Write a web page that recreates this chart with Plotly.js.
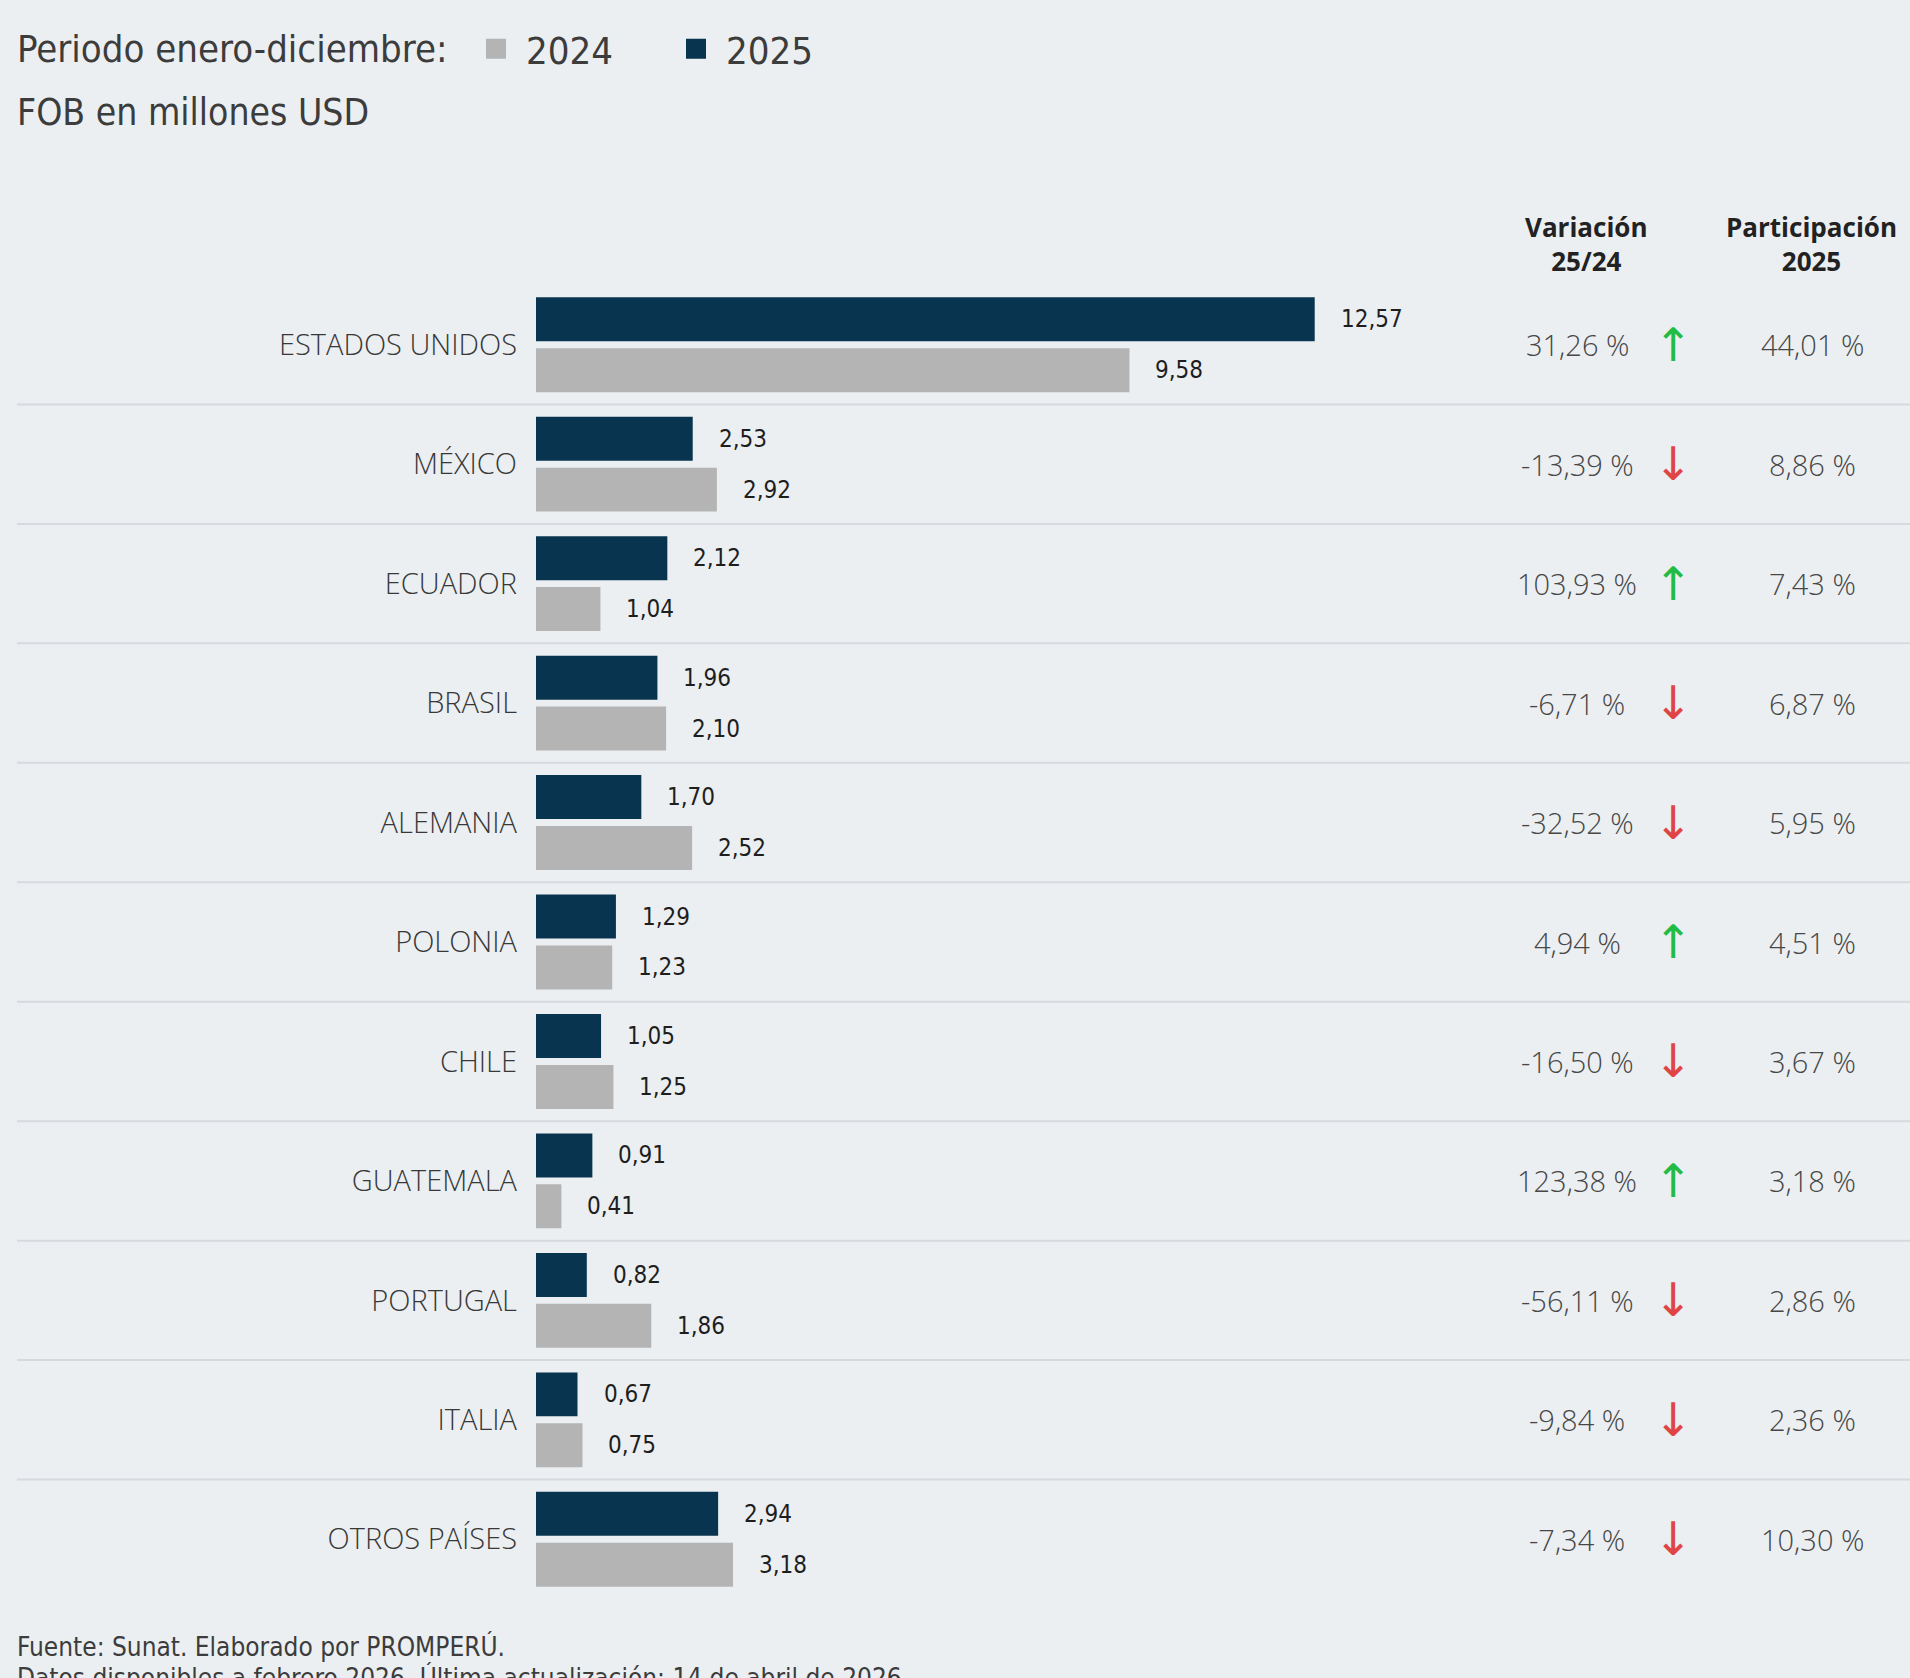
<!DOCTYPE html>
<html>
<head>
<meta charset="utf-8">
<script src="https://cdn.plot.ly/plotly-3.0.1.min.js"></script>
<style>
html,body{margin:0;padding:0;background:#ebeff2;}
#chart{width:1910px;height:1678px;}
</style>
</head>
<body>
<div id="chart"></div>
<script>
// ---- data ----
const countries = ["ESTADOS UNIDOS","MÉXICO","ECUADOR","BRASIL","ALEMANIA","POLONIA","CHILE","GUATEMALA","PORTUGAL","ITALIA","OTROS PAÍSES"];
const values2025 = [12.57,2.53,2.12,1.96,1.70,1.29,1.05,0.91,0.82,0.67,2.94];
const values2024 = [9.58,2.92,1.04,2.10,2.52,1.23,1.25,0.41,1.86,0.75,3.18];
const variation = [31.26,-13.39,103.93,-6.71,-32.52,4.94,-16.50,123.38,-56.11,-9.84,-7.34];
const share2025 = [44.01,8.86,7.43,6.87,5.95,4.51,3.67,3.18,2.86,2.36,10.30];
const seriesNames = ["2024","2025"];
const headerVar = ["Variación","25/24"];
const headerShare = ["Participación","2025"];
const titleText = "Periodo enero-diciembre:";
const subtitleText = "FOB en millones USD";
const footerLines = ["Fuente: Sunat. Elaborado por PROMPERÚ.","Datos disponibles a febrero 2026. Última actualización: 14 de abril de 2026."];

// ---- styles ----
const W = 1910, H = 1678;
const ML = 536, MR = 0, MT = 284.75, PH = 1314.5;
const MB = H - MT - PH;
const PW = W - ML - MR;
const pxPerUnit = 61.95;
const BG = "#ebeff2";
const NAVY = "#08344f";
const GREY = "#b4b4b4";
const GREEN = "#22bb44";
const RED = "#e04545";
const condFont = "DejaVu Sans Condensed, DejaVu Sans, sans-serif";
const openFont = "Open Sans, Roboto, sans-serif";

const fmt = v => v.toFixed(2).replace(".", ",");
const pxX = p => (p - ML) / PW;               // page px -> paper x
const pxY = p => (MT + PH - p) / PH;          // page px -> paper y

const traces = [
  {
    type: "bar", orientation: "h", name: seriesNames[1],
    y: countries, x: values2025,
    width: 0.368, offset: -0.397,
    marker: {color: NAVY}, showlegend: false, hoverinfo: "skip"
  },
  {
    type: "bar", orientation: "h", name: seriesNames[0],
    y: countries, x: values2024,
    width: 0.368, offset: 0.029,
    marker: {color: GREY}, showlegend: false, hoverinfo: "skip"
  },
  {
    type: "scatter", mode: "markers", name: seriesNames[0],
    x: [null], y: [null],
    marker: {symbol: "square", size: 16, color: GREY, line: {color: GREY, width: 4}},
    showlegend: true
  },
  {
    type: "scatter", mode: "markers", name: seriesNames[1],
    x: [null], y: [null],
    marker: {symbol: "square", size: 16, color: NAVY, line: {color: NAVY, width: 4}},
    showlegend: true
  }
];

const annotations = [];
const shapes = [];

countries.forEach((c, i) => {
  // value labels
  annotations.push({
    x: values2025[i], y: i - 0.213, xref: "x", yref: "y",
    text: fmt(values2025[i]), showarrow: false,
    xanchor: "left", yanchor: "middle", xshift: 24,
    font: {family: condFont, size: 24, color: "#1e1e1e"}
  });
  annotations.push({
    x: values2024[i], y: i + 0.213, xref: "x", yref: "y",
    text: fmt(values2024[i]), showarrow: false,
    xanchor: "left", yanchor: "middle", xshift: 24,
    font: {family: condFont, size: 24, color: "#1e1e1e"}
  });
  // variation
  annotations.push({
    x: pxX(1577), y: i, xref: "paper", yref: "y",
    text: fmt(variation[i]) + " %", showarrow: false,
    xanchor: "center", yanchor: "middle",
    font: {family: openFont, size: 29, color: "#474747", weight: 300}
  });
  // arrow
  const up = variation[i] >= 0;
  annotations.push({
    x: pxX(1673), y: i, xref: "paper", yref: "y",
    text: up ? "↑" : "↓", showarrow: false,
    xanchor: "center", yanchor: "middle",
    font: {family: "DejaVu Sans, sans-serif", size: 46, color: up ? GREEN : RED}
  });
  // share
  annotations.push({
    x: pxX(1812), y: i, xref: "paper", yref: "y",
    text: fmt(share2025[i]) + " %", showarrow: false,
    xanchor: "center", yanchor: "middle",
    font: {family: openFont, size: 29, color: "#474747", weight: 300}
  });
  if (i < countries.length - 1) {
    shapes.push({
      type: "line", xref: "paper", yref: "y",
      x0: pxX(17), x1: 1, y0: i + 0.5, y1: i + 0.5,
      line: {color: "#d6dade", width: 2}, layer: "below"
    });
  }
});

// headers
[[headerVar, 1586], [headerShare, 1811]].forEach(([lines, px]) => {
  annotations.push({
    x: pxX(px), y: pxY(243.5), xref: "paper", yref: "paper",
    text: "<b>" + lines[0] + "</b><br><b>" + lines[1] + "</b>", showarrow: false,
    xanchor: "center", yanchor: "middle", align: "center",
    font: {family: openFont, size: 26, color: "#222222"}
  });
});

// subtitle
annotations.push({
  x: pxX(15), y: pxY(112), xref: "paper", yref: "paper",
  text: subtitleText, showarrow: false, xanchor: "left", yanchor: "middle",
  font: {family: condFont, size: 37, color: "#3c3c3c"}
});
// footer
footerLines.forEach((t, k) => {
  annotations.push({
    x: pxX(15), y: pxY(1647 + k * 31), xref: "paper", yref: "paper",
    text: t, showarrow: false, xanchor: "left", yanchor: "middle",
    font: {family: condFont, size: 26, color: "#3c3c3c"}
  });
});

const layout = {
  width: W, height: H,
  paper_bgcolor: BG, plot_bgcolor: BG,
  margin: {l: ML, r: MR, t: MT, b: MB, pad: 0, autoexpand: false},
  title: {
    text: titleText, xref: "container", yref: "container",
    x: 17 / W, xanchor: "left", y: 1 - 49 / H, yanchor: "middle",
    font: {family: condFont, size: 38, color: "#3c3c3c"}
  },
  showlegend: true,
  legend: {
    orientation: "h", xref: "container", yref: "container",
    x: 466 / W, xanchor: "left", y: 1 - 49 / H, yanchor: "middle",
    bgcolor: "rgba(0,0,0,0)", itemwidth: 50,
    entrywidth: 135, entrywidthmode: "pixels",
    font: {family: condFont, size: 38, color: "#3c3c3c"},
    traceorder: "normal", itemclick: false, itemdoubleclick: false
  },
  barmode: "overlay",
  hovermode: false,
  xaxis: {
    range: [0, PW / pxPerUnit], showgrid: false, zeroline: false,
    showticklabels: false, showline: false, fixedrange: true
  },
  yaxis: {
    type: "category", categoryorder: "array", categoryarray: countries,
    range: [countries.length - 0.5, -0.5],
    showgrid: false, zeroline: false, showline: false, ticks: "",
    ticklabelstandoff: 18,
    tickfont: {family: openFont, size: 29, color: "#383838", weight: 300},
    fixedrange: true
  },
  annotations: annotations,
  shapes: shapes
};

Plotly.newPlot("chart", traces, layout, {displayModeBar: false, staticPlot: true});
</script>
</body>
</html>
